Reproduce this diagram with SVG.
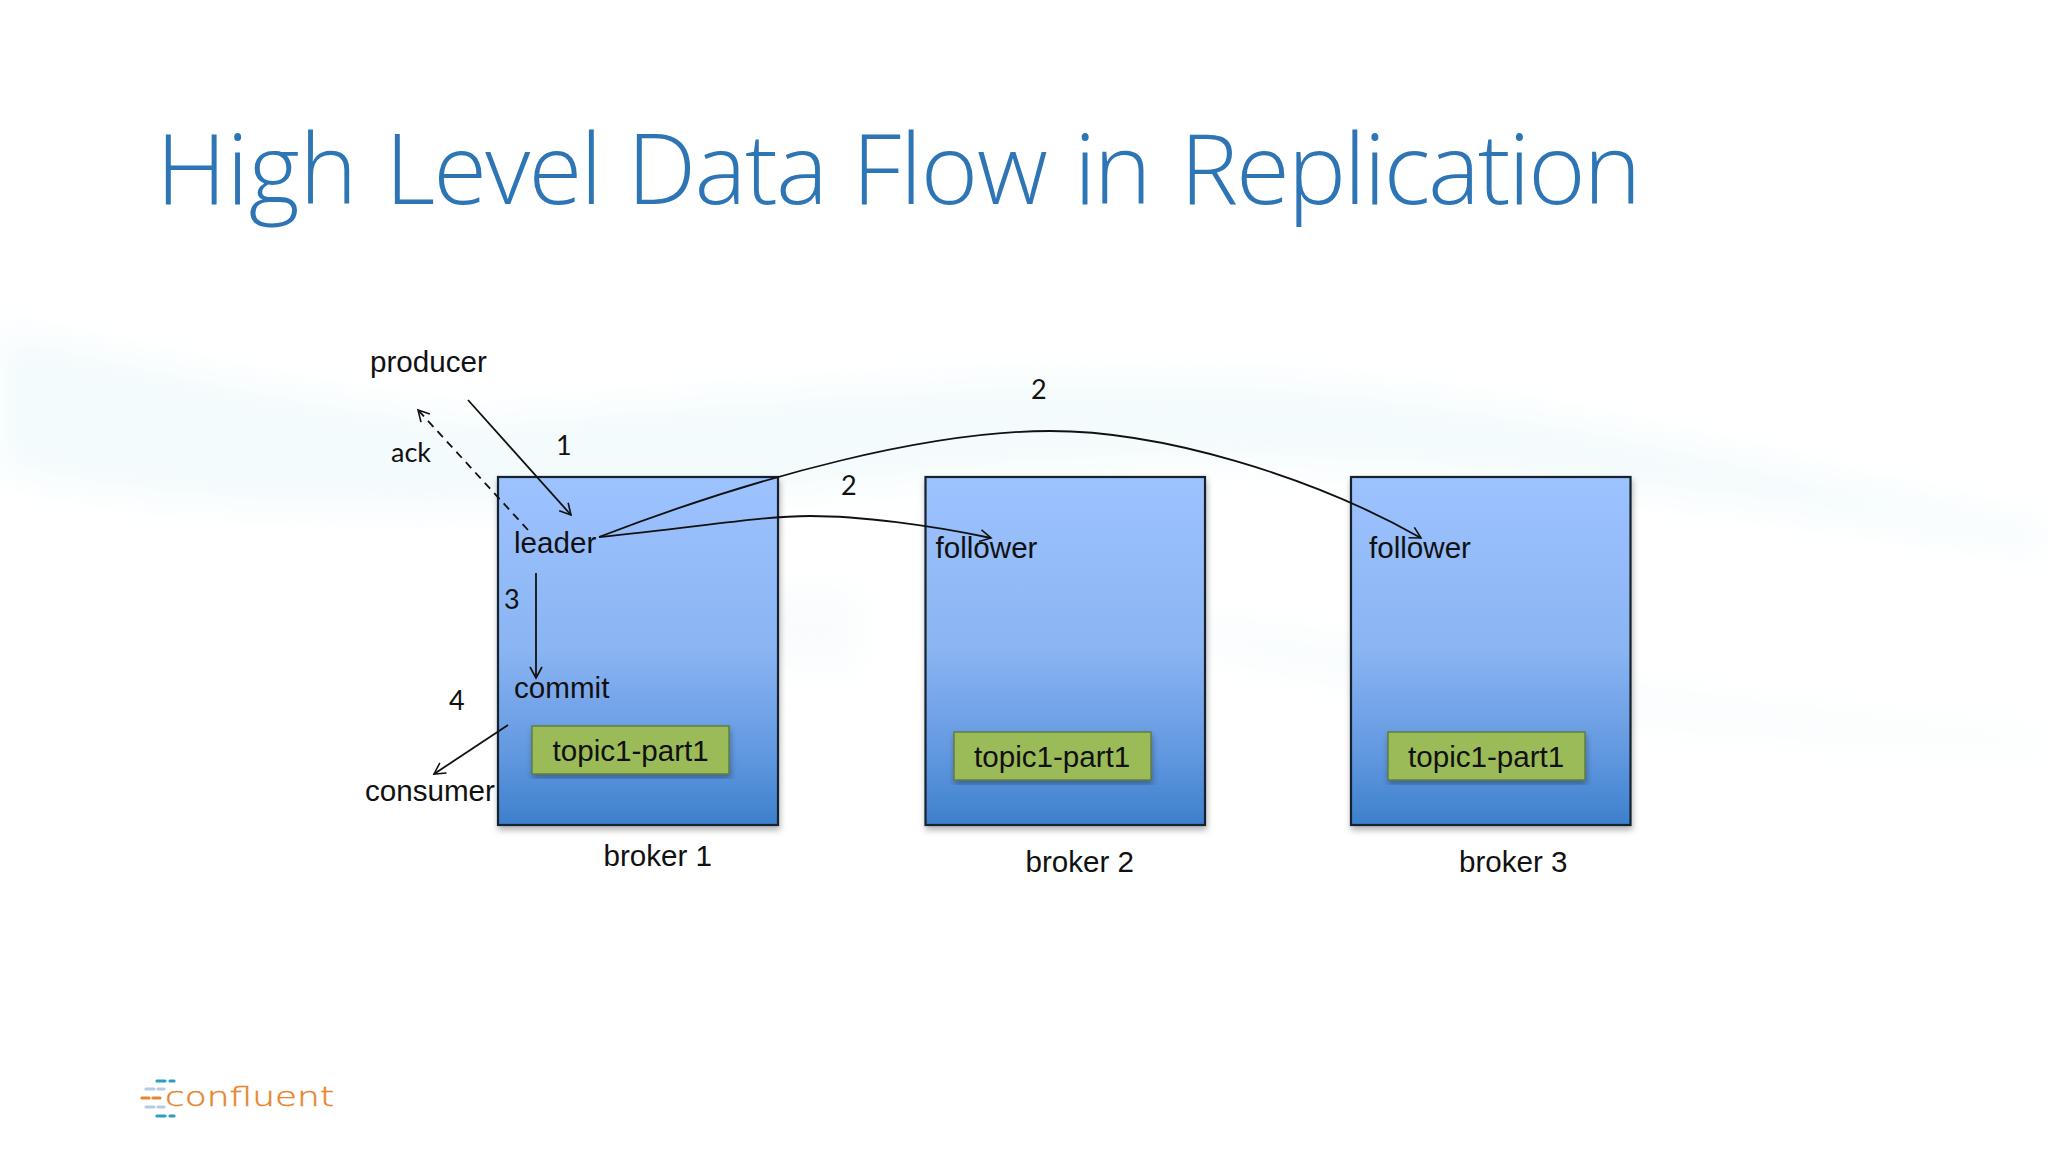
<svg xmlns="http://www.w3.org/2000/svg" width="2048" height="1152" viewBox="0 0 2048 1152">
<defs>
<linearGradient id="bg" x1="0" y1="0" x2="0" y2="1"><stop offset="0" stop-color="#9DC3FF"/><stop offset="0.5" stop-color="#8AB4F2"/><stop offset="0.8" stop-color="#6198E0"/><stop offset="1" stop-color="#3D7FCC"/></linearGradient>
<filter id="sh" x="-10%" y="-10%" width="120%" height="120%"><feDropShadow dx="1" dy="4" stdDeviation="3" flood-color="#000" flood-opacity="0.3"/></filter>
<filter id="blur" x="-20%" y="-50%" width="140%" height="200%"><feGaussianBlur stdDeviation="18"/></filter>
<marker id="a" viewBox="0 0 14 14" refX="12" refY="7" markerWidth="14" markerHeight="14" markerUnits="userSpaceOnUse" orient="auto"><path d="M1 1 L12 7 L1 13" fill="none" stroke="#111" stroke-width="1.6"/></marker>
<style>
.t{font-family:"Liberation Sans",Arial,sans-serif;font-size:29.6px;fill:#111}
.n{font-family:Lato,"Open Sans",sans-serif;font-size:27px;fill:#111}
.b{fill:url(#bg);stroke:#15202e;stroke-width:2.2;filter:url(#sh)}
.g{fill:#9BBB59;stroke:#5f7a3a;stroke-width:1.4;filter:url(#sh)}
.c{fill:none;stroke:#111;stroke-width:1.8}
.d{stroke-width:3.2;stroke-linecap:round;fill:none}
</style>
</defs>
<rect width="2048" height="1152" fill="#fff"/>
<g id="background" filter="url(#blur)" fill="#F3FBFC">
<path d="M0 330 C180 370 300 400 480 420 C700 400 1000 370 1300 385 C1600 410 1850 490 2048 530 L2048 550 C1700 490 1300 440 1000 470 C700 500 300 540 0 470Z"/>
<path d="M1200 620 C1450 650 1600 700 2048 735 L2048 750 C1700 735 1400 700 1200 650Z" fill="#F8FCFD"/>
<path d="M700 590 L860 590 L860 670 L700 660Z" fill="#F9FCFD"/>
</g>
<text id="title" y="203.500" font-family="'Open Sans','Noto Sans',sans-serif" font-weight="300" font-size="98" fill="#2E75B6"><tspan x="156">High</tspan> <tspan x="385" letter-spacing="-1.9">Level</tspan> <tspan x="627" letter-spacing="-1.6">Data</tspan> <tspan x="852" letter-spacing="-1.3">Flow</tspan> <tspan x="1074" letter-spacing="-2.5">in</tspan> <tspan x="1180" letter-spacing="-2.2">Replication</tspan></text>
<g id="broker1"><rect class="b" x="498" y="477" width="280" height="348"/><text class="t" x="514" y="552.500">leader</text><text class="t" x="514" y="697.500">commit</text><rect class="g" x="532" y="726" width="197" height="48"/><text class="t" x="552.500" y="761">topic1-part1</text><text class="t" x="603.500" y="865.500">broker 1</text></g>
<g id="broker2"><rect class="b" x="925.500" y="477" width="279.500" height="348"/><text class="t" x="935.500" y="558">follower</text><rect class="g" x="954" y="732" width="197" height="48"/><text class="t" x="974" y="767">topic1-part1</text><text class="t" x="1025.500" y="872">broker 2</text></g>
<g id="broker3"><rect class="b" x="1351" y="477" width="279.500" height="348"/><text class="t" x="1369" y="558">follower</text><rect class="g" x="1388" y="732" width="197" height="48"/><text class="t" x="1408" y="767">topic1-part1</text><text class="t" x="1459" y="872">broker 3</text></g>
<g id="producer"><text class="t" x="370" y="372">producer</text></g>
<g id="consumer"><text class="t" x="365" y="801">consumer</text></g>
<g id="connectors">
<path class="c" marker-end="url(#a)" d="M468 400 L571 515"/>
<path class="c" marker-end="url(#a)" stroke-dasharray="8 6" d="M528 530 L418 410"/>
<path class="c" marker-end="url(#a)" d="M536 573 L536 678"/>
<path class="c" marker-end="url(#a)" d="M508 725 L434 774"/>
<path class="c" marker-end="url(#a)" d="M599 537 C700 527 760 516 810 516 C860 516 930 525 991 538"/>
<path class="c" marker-end="url(#a)" d="M599 537 C760 475 930 431 1050 431 C1160 431 1310 475 1421 538"/>
</g>
<g id="labels">
<text class="n" x="391" y="462">ack</text><text class="n" x="556" y="455">1</text><text class="n" x="841" y="495">2</text><text class="n" x="1031" y="399">2</text><text class="n" x="504" y="609">3</text><text class="n" x="449" y="710">4</text>
</g>
<g id="logo">
<path class="d" stroke="#2E9CC0" d="M157 1081H165M170 1081H174M157 1116H165M170 1116H174"/>
<path class="d" stroke="#B5CBE0" d="M146 1089H154M158 1089H164M146 1107H154M158 1107H164"/>
<path class="d" stroke="#E8842C" d="M142 1098H149M153 1098H160"/>
<text x="165" y="1106" font-family="'DejaVu Sans',sans-serif" font-weight="200" font-size="27" fill="#E8842C" stroke="#E8842C" stroke-width="0.4" textLength="169" lengthAdjust="spacingAndGlyphs">confluent</text>
</g>
</svg>
